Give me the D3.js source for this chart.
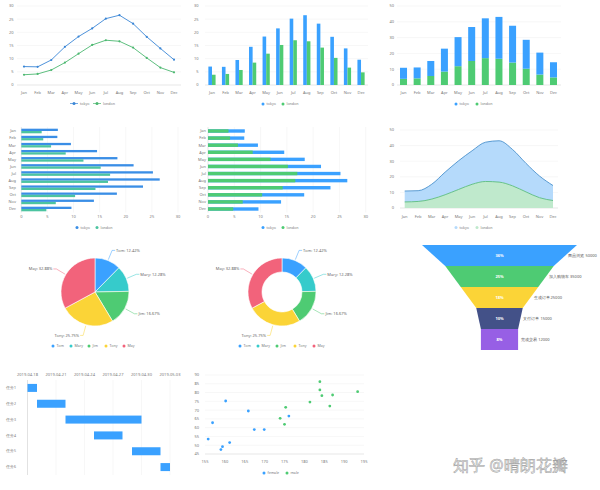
<!DOCTYPE html>
<html><head><meta charset="utf-8">
<script src="https://cdn.jsdelivr.net/npm/d3@7/dist/d3.min.js"></script>
<style>body{margin:0;background:#fff}svg{display:block}text{font-family:"Noto Sans",Roboto,sans-serif}</style>
</head><body>
<svg id="c" width="600" height="490"></svg>
<script>
const months = ['Jan','Feb','Mar','Apr','May','Jun','Jul','Aug','Sep','Oct','Nov','Dec'];
const tokyo = [7.0, 6.9, 9.5, 14.5, 18.4, 21.5, 25.2, 26.5, 23.3, 18.3, 13.9, 9.6];
const london = [3.9, 4.2, 5.7, 8.5, 11.9, 15.2, 17.0, 16.6, 14.2, 10.3, 6.6, 4.8];
const seriesNames = ['tokyo','london'];
const pieNames = ['Tom','Mary','Jim','Tony','May'];
const pieValues = [12.42, 12.28, 16.67, 25.75, 32.88];
const funnelNames = ['商品浏览','加入购物车','生成订单','支付订单','完成交易'];
const funnelValues = [50000, 35000, 25000, 15000, 12000];
const taskNames = ['任务1','任务2','任务3','任务4','任务5','任务6'];
const taskStart = ['2019-04-18','2019-04-19','2019-04-22','2019-04-25','2019-04-29','2019-05-02'];
const taskEnd = ['2019-04-19','2019-04-22','2019-04-30','2019-04-28','2019-05-02','2019-05-03'];
const dateTicks = ['2019-04-18','2019-04-21','2019-04-24','2019-04-27','2019-04-30','2019-05-03'];
const femaleH = [155.8, 156.9, 159.0, 159.4, 160.2, 161.2, 165.9, 167.4, 169.9, 176.1];
const femaleW = [53.5, 62.8, 47.5, 49.2, 75.2, 51.5, 69.5, 58.9, 58.9, 66.6];
const maleH = [173.9, 175.0, 175.3, 181.4, 183.9, 183.9, 184.4, 186.4, 187.1, 193.4];
const maleW = [65.3, 61.9, 71.6, 74.6, 86.2, 81.5, 78.2, 72.3, 78.6, 80.5];

const BLUE = '#3aa1ff', GREEN = '#4ecb73', LBLUE='#3a86d6', LGREEN='#4cb870';
const pieColors = ['#3aa1ff','#36cbcb','#4ecb73','#fbd437','#f2637b'];
const funnelColors = ['#3aa1ff','#4ecb73','#fbd437','#435188','#975fe5'];
const TXT = '#777', GRID = '#eeeeee', AXIS = '#cccccc';
const FS = 4;
const svg = d3.select('#c');

function yAxisH(g, y, x0, x1, ticks, labelX){
  ticks.forEach(t=>{
    g.append('line').attr('x1',x0).attr('x2',x1).attr('y1',y(t)).attr('y2',y(t))
      .attr('stroke', t===ticks[0]?AXIS:GRID).attr('stroke-width',0.5);
    g.append('text').attr('x',labelX).attr('y',y(t)).attr('dy','0.35em').attr('text-anchor','end')
      .attr('font-size',FS).attr('fill',TXT).text(t);
  });
}
function xLabels(g, x, yy){
  months.forEach(m=>{
    g.append('text').attr('x',x(m)).attr('y',yy).attr('text-anchor','middle').attr('dy','0.35em')
     .attr('font-size',FS).attr('fill',TXT).text(m);
  });
}
function legend(g, items, colors, y, type){
  items.forEach((it,i)=>{
    const cx = it.x;
    if(type==='line'){
      g.append('line').attr('x1',cx-4).attr('x2',cx+4).attr('y1',y).attr('y2',y).attr('stroke',colors[i]).attr('stroke-width',0.7);
    }
    g.append('circle').attr('cx',cx).attr('cy',y).attr('r',1.5).attr('fill',colors[i]);
    g.append('text').attr('x',cx+(type==='line'?6:3.5)).attr('y',y).attr('dy','0.35em')
      .attr('font-size',3.6).attr('fill',TXT).text(it.name);
  });
}

// Chart 1: line
{
  const g = svg.append('g');
  const x = d3.scalePoint().domain(months).range([24,174]);
  const y = d3.scaleLinear().domain([0,30]).range([85,6]);
  yAxisH(g, y, 17, 181, d3.range(0,31,5), 13.5);
  xLabels(g, x, 93);
  [tokyo, london].forEach((s,i)=>{
    const c = i===0?LBLUE:LGREEN;
    g.append('path').datum(s).attr('fill','none').attr('stroke',c).attr('stroke-width',0.9)
      .attr('d', d3.line().x((d,j)=>x(months[j])).y(d=>y(d)));
    g.selectAll(null).data(s).enter().append('circle').attr('cx',(d,j)=>x(months[j])).attr('cy',d=>y(d)).attr('r',1.1).attr('fill',c);
  });
  legend(g, [{name:'tokyo',x:74},{name:'london',x:97}], [LBLUE,LGREEN], 103.5, 'line');
}
// Chart 2: grouped bars
{
  const g = svg.append('g');
  const x = d3.scaleBand().domain(months).range([205.2,367.8]);
  const y = d3.scaleLinear().domain([0,30]).range([85,6]);
  yAxisH(g, y, 205, 368, d3.range(0,31,5), 198.5);
  const xc = m=>x(m)+x.bandwidth()/2;
  xLabels(g, xc, 93);
  const x1 = d3.scaleBand().domain(seriesNames).range([-3.6,3.6]);
  [tokyo, london].forEach((s,i)=>{
    g.selectAll(null).data(s).enter().append('rect')
      .attr('x',(d,j)=>xc(months[j])+x1(seriesNames[i])).attr('width',x1.bandwidth())
      .attr('y',d=>y(d)).attr('height',d=>y(0)-y(d)).attr('fill',i===0?BLUE:GREEN);
  });
  legend(g, [{name:'tokyo',x:263},{name:'london',x:283}], [BLUE,GREEN], 104, 'dot');
}
// Chart 3: stacked bars
{
  const g = svg.append('g');
  const x = d3.scaleBand().domain(months).range([396.7,560.3]).paddingInner(0.486).paddingOuter(0.243);
  const y = d3.scaleLinear().domain([0,50]).range([85,6]);
  yAxisH(g, y, 397, 561, d3.range(0,51,10), 394);
  const xc = m=>x(m)+x.bandwidth()/2;
  xLabels(g, xc, 93);
  const rows = months.map((m,j)=>({m, london:london[j], tokyo:tokyo[j]}));
  const st = d3.stack().keys(['london','tokyo'])(rows);
  st.forEach((layer,i)=>{
    g.selectAll(null).data(layer).enter().append('rect')
      .attr('x',d=>x(d.data.m)).attr('width',x.bandwidth())
      .attr('y',d=>y(d[1])).attr('height',d=>y(d[0])-y(d[1])).attr('fill',i===0?GREEN:BLUE);
  });
  legend(g, [{name:'tokyo',x:456},{name:'london',x:477}], [BLUE,GREEN], 104, 'dot');
}
// Chart 4: horizontal grouped bars
{
  const g = svg.append('g');
  const y = d3.scaleBand().domain(months).range([127.45,212.55]);
  const x = d3.scaleLinear().domain([0,30]).range([21.3,178]);
  d3.range(0,31,5).forEach(t=>{
    g.append('line').attr('x1',x(t)).attr('x2',x(t)).attr('y1',127).attr('y2',212.5).attr('stroke',t===0?AXIS:GRID).attr('stroke-width',0.5);
    g.append('text').attr('x',x(t)).attr('y',217).attr('dy','0.35em').attr('text-anchor','middle').attr('font-size',FS).attr('fill',TXT).text(t);
  });
  months.forEach(m=>g.append('text').attr('x',16).attr('y',y(m)+y.bandwidth()/2).attr('dy','0.35em').attr('text-anchor','end').attr('font-size',FS).attr('fill',TXT).text(m));
  [tokyo, london].forEach((s,i)=>{
    g.selectAll(null).data(s).enter().append('rect')
      .attr('y',(d,j)=>y(months[j])+y.bandwidth()/2+(i===0?-2.3:0)).attr('height',2.3)
      .attr('x',x(0)).attr('width',d=>x(d)-x(0)).attr('fill',i===0?'#3a8ee6':'#4cc4a0');
  });
  legend(g, [{name:'tokyo',x:77},{name:'london',x:97}], ['#3a8ee6','#4cc4a0'], 227.5, 'dot');
}
// Chart 5: overlapped horizontal bars
{
  const g = svg.append('g');
  const y = d3.scaleBand().domain(months).range([127.45,212.55]);
  const x = d3.scaleLinear().domain([0,30]).range([208,365.7]);
  d3.range(0,31,5).forEach(t=>{
    g.append('line').attr('x1',x(t)).attr('x2',x(t)).attr('y1',127).attr('y2',212.5).attr('stroke',t===0?AXIS:GRID).attr('stroke-width',0.5);
    g.append('text').attr('x',x(t)).attr('y',217).attr('dy','0.35em').attr('text-anchor','middle').attr('font-size',FS).attr('fill',TXT).text(t);
  });
  months.forEach(m=>g.append('text').attr('x',206).attr('y',y(m)+y.bandwidth()/2).attr('dy','0.35em').attr('text-anchor','end').attr('font-size',FS).attr('fill',TXT).text(m));
  [tokyo, london].forEach((s,i)=>{
    g.selectAll(null).data(s).enter().append('rect')
      .attr('y',(d,j)=>y(months[j])+y.bandwidth()/2-1.7).attr('height',3.4)
      .attr('x',x(0)).attr('width',d=>x(d)-x(0)).attr('fill',i===0?BLUE:GREEN);
  });
  legend(g, [{name:'tokyo',x:263},{name:'london',x:283}], [BLUE,GREEN], 227.5, 'dot');
}
// Chart 6: stacked area
{
  const g = svg.append('g');
  const x = d3.scalePoint().domain(months).range([404.7,553]);
  const y = d3.scaleLinear().domain([0,50]).range([208,130]);
  yAxisH(g, y, 400, 558, d3.range(0,51,10), 394);
  xLabels(g, x, 217);
  const rows = months.map((m,j)=>({m, london:london[j], tokyo:tokyo[j]}));
  const st = d3.stack().keys(['london','tokyo'])(rows);
  const fills = ['#bfe9cc','#b5dafb'], strokes = ['#4cb870','#3a86c6'];
  st.forEach((layer,i)=>{
    g.append('path').datum(layer).attr('fill',fills[i])
      .attr('d', d3.area().curve(d3.curveMonotoneX).x(d=>x(d.data.m)).y0(d=>y(d[0])).y1(d=>y(d[1])));
  });
  st.forEach((layer,i)=>{
    g.append('path').datum(layer).attr('fill','none').attr('stroke',strokes[i]).attr('stroke-width',0.8)
      .attr('d', d3.line().curve(d3.curveMonotoneX).x(d=>x(d.data.m)).y(d=>y(d[1])));
  });
  legend(g, [{name:'tokyo',x:456},{name:'london',x:477}], ['#b5dafb','#bfe9cc'], 227.5, 'dot');
}
// Pie & donut
function pieChart(cx, cy, inner, legendXs){
  const g = svg.append('g');
  const total = d3.sum(pieValues);
  const arcs = d3.pie().sort(null)(pieValues);
  const r = 34;
  const arc = d3.arc().innerRadius(inner).outerRadius(r);
  arcs.forEach((a,i)=>{
    g.append('path').attr('d',arc(a)).attr('transform',`translate(${cx},${cy})`).attr('fill',pieColors[i]).attr('stroke','#fff').attr('stroke-width',0.6);
    const mid = (a.startAngle+a.endAngle)/2;
    const sx = cx+Math.sin(mid)*(r+1), sy = cy-Math.cos(mid)*(r+1);
    const ex = cx+Math.sin(mid)*(r+11), ey = cy-Math.cos(mid)*(r+11);
    const side = Math.sin(mid)>=0?1:-1;
    g.append('path').attr('d',`M${sx},${sy}L${ex},${ey}L${ex+side*3},${ey}`).attr('fill','none').attr('stroke',pieColors[i]).attr('stroke-width',0.5);
    g.append('text').attr('x',ex+side*4).attr('y',ey).attr('dy','0.35em').attr('text-anchor',side>0?'start':'end')
      .attr('font-size',FS).attr('fill','#666').text(`${pieNames[i]}: ${(pieValues[i]/total*100).toFixed(2)}%`);
  });
  legend(g, pieNames.map((n,i)=>({name:n,x:legendXs[i]})), pieColors, 346, 'dot');
}
pieChart(95, 292, 0, [53,71,89,106,124]);
pieChart(282, 292, 20, [240,258,277,295,314]);
// Funnel
{
  const g = svg.append('g');
  const w = d3.scaleLinear().domain([0,50000]).range([0,155]);
  const yb = d3.scaleBand().domain(funnelNames).range([245,350]);
  const cx = 499.5, total = d3.sum(funnelValues);
  funnelValues.forEach((v,i)=>{
    const t = yb(funnelNames[i]), b = t+yb.bandwidth();
    const wt = w(v), wb = w(i<funnelValues.length-1?funnelValues[i+1]:v);
    g.append('path').attr('d',`M${cx-wt/2},${t}L${cx+wt/2},${t}L${cx+wb/2},${b}L${cx-wb/2},${b}Z`).attr('fill',funnelColors[i]);
    const my = (t+b)/2;
    g.append('text').attr('x',cx).attr('y',my).attr('dy','0.35em').attr('text-anchor','middle').attr('font-size',FS).attr('font-weight','bold').attr('fill','#fff')
      .text(Math.floor(v/total*100)+'%');
    g.append('text').attr('x',cx+(wt+wb)/4+3).attr('y',my).attr('dy','0.35em').attr('font-size',FS).attr('fill','#555')
      .text(funnelNames[i]+' '+v);
  });
}
// Gantt
{
  const g = svg.append('g');
  const parse = d3.utcParse('%Y-%m-%d');
  const x = d3.scaleUtc().domain([parse('2019-04-18'),parse('2019-05-03')]).range([27.5,170]);
  const y = d3.scaleBand().domain(taskNames).range([380,475]);
  dateTicks.map(parse).forEach(t=>{
    g.append('line').attr('x1',x(t)).attr('x2',x(t)).attr('y1',380).attr('y2',475).attr('stroke',GRID).attr('stroke-width',0.5);
    g.append('text').attr('x',x(t)).attr('y',375).attr('dy','0.35em').attr('text-anchor','middle').attr('font-size',FS).attr('fill',TXT).text(d3.utcFormat('%Y-%m-%d')(t));
  });
  g.append('line').attr('x1',27.5).attr('x2',27.5).attr('y1',380).attr('y2',475).attr('stroke',AXIS).attr('stroke-width',0.5);
  taskNames.forEach((n,i)=>{
    const cy = y(n)+y.bandwidth()/2;
    g.append('text').attr('x',16).attr('y',cy).attr('dy','0.35em').attr('text-anchor','end').attr('font-size',3.5).attr('fill',TXT).text(n);
    g.append('rect').attr('x',x(parse(taskStart[i]))).attr('width',x(parse(taskEnd[i]))-x(parse(taskStart[i])))
      .attr('y',cy-4).attr('height',8).attr('fill',BLUE);
  });
}
// Scatter
{
  const g = svg.append('g');
  const x = d3.scaleLinear().domain([155,195]).range([205,364]);
  const y = d3.scaleLinear().domain([45,90]).range([454,375]);
  d3.range(45,91,5).forEach(t=>{
    g.append('line').attr('x1',205).attr('x2',364).attr('y1',y(t)).attr('y2',y(t)).attr('stroke',t===45?AXIS:GRID).attr('stroke-width',0.5);
    g.append('text').attr('x',199).attr('y',y(t)).attr('dy','0.35em').attr('text-anchor','end').attr('font-size',FS).attr('fill',TXT).text(t);
  });
  d3.range(155,196,5).forEach(t=>{
    g.append('text').attr('x',x(t)).attr('y',462).attr('dy','0.35em').attr('text-anchor','middle').attr('font-size',FS).attr('fill',TXT).text(t);
  });
  femaleH.forEach((h,i)=>g.append('circle').attr('cx',x(h)).attr('cy',y(femaleW[i])).attr('r',1.4).attr('fill',BLUE));
  maleH.forEach((h,i)=>g.append('circle').attr('cx',x(h)).attr('cy',y(maleW[i])).attr('r',1.4).attr('fill',GREEN));
  legend(g, [{name:'female',x:264},{name:'male',x:287}], [BLUE,GREEN], 473, 'dot');
}
// Watermark
svg.append('text').attr('x',453).attr('y',471).attr('font-family','"Noto Sans CJK SC",sans-serif').attr('font-size',16)
  .attr('fill','#eeeeee').attr('stroke','#a0a0a0').attr('stroke-width',0.5).text('知乎 @晴朗花瓣');
</script>
</body></html>
